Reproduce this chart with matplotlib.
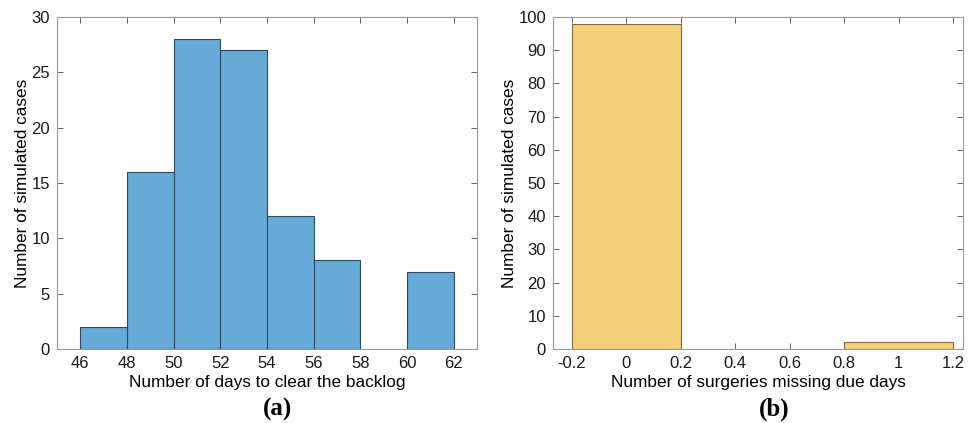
import numpy as np
import matplotlib
matplotlib.use("Agg")
import matplotlib.pyplot as plt

plt.rcParams['font.family'] = ['Liberation Sans', 'DejaVu Sans']

# panel (a): days to clear the backlog
days_edges = [46, 48, 50, 52, 54, 56, 58, 60, 62]
days_counts = [2, 16, 28, 27, 12, 8, 0, 7]

# panel (b): surgeries missing due days
miss_edges = [-0.2, 0.2, 0.8, 1.2]
miss_counts = [98, 0, 2]

blue = '#66AAD7'
yellow = '#F4D079'

fig = plt.figure(figsize=(9.76, 4.23), dpi=100)
ax1 = fig.add_axes([57 / 976, 1 - 349 / 423, 420 / 976, 332 / 423])
ax2 = fig.add_axes([553 / 976, 1 - 349 / 423, 410 / 976, 332 / 423])


def draw_hist(ax, edges, counts, color, edge):
    edges = np.array(edges, dtype=float)
    counts = np.array(counts)
    widths = np.diff(edges)
    keep = counts > 0  # empty bins draw nothing
    ax.bar(edges[:-1][keep], counts[keep], width=widths[keep], align='edge',
           color=color, edgecolor=edge, linewidth=0.8)


draw_hist(ax1, days_edges, days_counts, blue, '#2c4a62')
ax1.set_xlim(45, 63)
ax1.set_ylim(0, 30)
ax1.set_xticks(range(46, 63, 2))
ax1.set_yticks(range(0, 31, 5))
ax1.set_xlabel('Number of days to clear the backlog', fontsize=12.4, labelpad=3)
ax1.set_ylabel('Number of simulated cases', fontsize=12.4, labelpad=1)

draw_hist(ax2, miss_edges, miss_counts, yellow, '#7a6a48')
ax2.set_xlim(-0.27, 1.237)
ax2.set_ylim(0, 100)
ax2.set_xticks([-0.2, 0, 0.2, 0.4, 0.6, 0.8, 1.0, 1.2])
ax2.set_xticklabels(['-0.2', '0', '0.2', '0.4', '0.6', '0.8', '1', '1.2'])
ax2.set_yticks(range(0, 101, 10))
ax2.set_xlabel('Number of surgeries missing due days', fontsize=12.4, labelpad=3)
ax2.set_ylabel('Number of simulated cases', fontsize=12.4, labelpad=1)

for ax in (ax1, ax2):
    ax.set_axisbelow(True)
    for s in ax.spines.values():
        s.set_color('#9a9a9a')
        s.set_linewidth(0.8)
    ax.tick_params(direction='in', top=True, right=True, length=4,
                   width=0.7, color='#666666', labelsize=12,
                   labelcolor='#1a1a1a', pad=5)

fig.text(277 / 976, 1 - 409 / 423, '(a)', ha='center', va='center',
         fontsize=18, fontweight='bold', family='Liberation Serif')
fig.text(774 / 976, 1 - 409 / 423, '(b)', ha='center', va='center',
         fontsize=18, fontweight='bold', family='Liberation Serif')

fig.savefig('out.png', dpi=100)
